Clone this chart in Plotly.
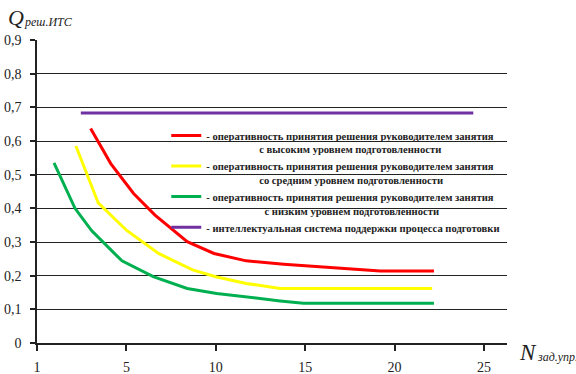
import numpy as np
import plotly.graph_objects as go

# Axis labels (categorical-like axis: equally spaced labels)
x_tick_labels = [1, 5, 10, 15, 20, 25]
y_tick_vals = [0, 0.1, 0.2, 0.3, 0.4, 0.5, 0.6, 0.7, 0.8, 0.9]
y_tick_text = ["0", "0,1", "0,2", "0,3", "0,4", "0,5", "0,6", "0,7", "0,8", "0,9"]

# Series (N values, Q values)
high_N = [3.4, 4.3, 5.4, 6.6, 8.4, 9.9, 11.7, 13.8, 19.2, 22.2]
high_Q = [0.637, 0.533, 0.444, 0.380, 0.301, 0.266, 0.244, 0.234, 0.214, 0.214]

mid_N = [2.74, 3.74, 5.0, 6.8, 8.7, 10.0, 11.7, 13.6, 22.1]
mid_Q = [0.585, 0.416, 0.335, 0.266, 0.217, 0.197, 0.177, 0.162, 0.162]

low_N = [1.76, 2.7, 3.45, 4.8, 6.5, 8.4, 10.05, 11.7, 13.6, 14.9, 22.2]
low_Q = [0.535, 0.400, 0.333, 0.244, 0.197, 0.162, 0.147, 0.136, 0.125, 0.118, 0.118]

its_N = [2.96, 24.4]
its_Q = [0.683, 0.683]

names = [
    "- оперативность принятия решения руководителем занятия<br>" + "&nbsp;" * 20 + "с высоким уровнем подготовленности",
    "- оперативность принятия решения руководителем занятия<br>" + "&nbsp;" * 20 + "со средним уровнем подготовленности",
    "- оперативность принятия решения руководителем занятия<br>" + "&nbsp;" * 22 + "с низким уровнем подготовленности",
    "- интеллектуальная система поддержки процесса подготовки",
]
colors = ["#ff0000", "#ffff00", "#00b050", "#7030a0"]

tick_pos = list(range(len(x_tick_labels)))


def to_pos(n):
    # equally spaced label axis: map N to its position between labels
    return np.interp(n, x_tick_labels, tick_pos)


fig = go.Figure()
for xs, ys, name, col in [
    (high_N, high_Q, names[0], colors[0]),
    (mid_N, mid_Q, names[1], colors[1]),
    (low_N, low_Q, names[2], colors[2]),
    (its_N, its_Q, names[3], colors[3]),
]:
    fig.add_trace(go.Scatter(x=to_pos(xs), y=ys, mode="lines", name=name,
                             line=dict(color=col, width=3)))

serif = "'Liberation Serif', 'Times New Roman', 'DejaVu Serif', serif"
fig.update_layout(
    width=576, height=374,
    margin=dict(l=37, r=69, t=40, b=31, autoexpand=False),
    paper_bgcolor="white", plot_bgcolor="white",
    font=dict(family=serif, color="#222"),
    showlegend=True,
    legend=dict(x=0.275, y=0.729, xanchor="left", yanchor="top",
                bgcolor="rgba(0,0,0,0)", borderwidth=0,
                font=dict(family=serif, size=10.6, color="#222", weight="bold"),
                valign="top", itemwidth=30, tracegroupgap=0),
    xaxis=dict(range=[0, 5.257], tickvals=tick_pos, ticktext=[str(v) for v in x_tick_labels],
               automargin=False,
               showgrid=False, zeroline=False, showline=True, linecolor="#222", linewidth=1.5,
               ticks="outside", ticklen=6, tickcolor="#222", tickwidth=1.5,
               ticklabelstandoff=4,
               tickfont=dict(family=serif, size=14, color="#222")),
    yaxis=dict(range=[0, 0.9], tickvals=y_tick_vals, ticktext=y_tick_text,
               automargin=False,
               showgrid=True, gridcolor="#222", gridwidth=1.4, zeroline=False,
               showline=True, linecolor="#222", linewidth=1.5,
               ticks="outside", ticklen=5, tickcolor="#222", tickwidth=1.5,
               ticklabelstandoff=6,
               tickfont=dict(family=serif, size=14, color="#222")),
)

fig.add_annotation(xref="paper", yref="paper", x=-0.066, y=1.075, xanchor="left", yanchor="middle",
                   text="<i>Q</i>", showarrow=False, font=dict(family=serif, size=22, color="#222"))
fig.add_annotation(xref="paper", yref="paper", x=-0.032, y=1.059, xanchor="left", yanchor="middle",
                   text="<i>реш.ИТС</i>", showarrow=False, font=dict(family=serif, size=12, color="#222"))
fig.add_annotation(xref="paper", yref="paper", x=1.022, y=-0.03, xanchor="left", yanchor="middle",
                   text="<i>N</i>", showarrow=False, font=dict(family=serif, size=23, color="#222"))
fig.add_annotation(xref="paper", yref="paper", x=1.06, y=-0.045, xanchor="left", yanchor="middle",
                   text="<i>зад.упр.</i>", showarrow=False, font=dict(family=serif, size=12, color="#222"))

fig.write_html("out.html", config={"displayModeBar": False},
               post_script="document.body.style.margin='0px';")
